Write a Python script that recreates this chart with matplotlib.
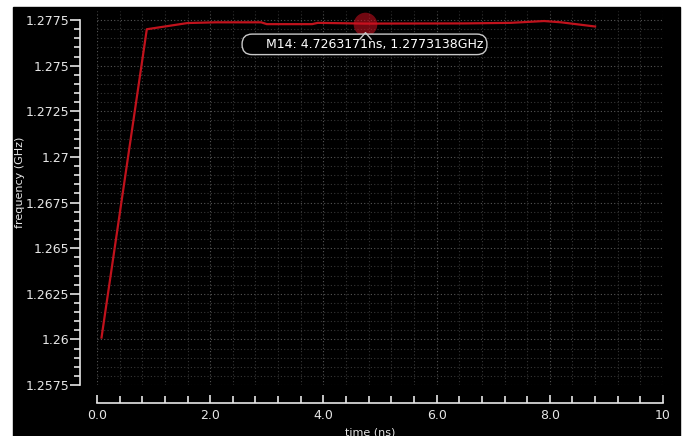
import matplotlib
matplotlib.use('Agg')
import matplotlib.pyplot as plt
from matplotlib.patches import Rectangle
from matplotlib.path import Path
from matplotlib.ticker import FixedLocator
import numpy as np

# frequency waveform
time_ns = [0.08, 0.88, 1.6, 2.1, 2.9, 3.0, 3.8, 3.9, 4.73, 6.5, 7.3, 7.9, 8.2, 8.8]
freq_ghz = [1.2601, 1.2770, 1.27734, 1.27738, 1.27738, 1.27728, 1.27728,
            1.27735, 1.27731, 1.27732, 1.27735, 1.27745, 1.27738, 1.27715]

marker_t = 4.7263171
marker_f = 1.2773138
marker_label = 'M14: 4.7263171ns, 1.2773138GHz'

x_ticks = [0, 2, 4, 6, 8, 10]
x_labels = ['0.0', '2.0', '4.0', '6.0', '8.0', '10']
y_ticks = [1.2575, 1.26, 1.2625, 1.265, 1.2675, 1.27, 1.2725, 1.275, 1.2775]
y_labels = ['1.2575', '1.26', '1.2625', '1.265', '1.2675', '1.27', '1.2725', '1.275', '1.2775']

txt = '#e6e6e6'

fig = plt.figure(figsize=(6.85, 4.36), dpi=100, facecolor='white')
# black window behind the plot
fig.patches.append(Rectangle((13 / 685, 0), 667 / 685, 429 / 436,
                             transform=fig.transFigure, color='black', zorder=-10))

ax = fig.add_axes([97 / 685, 51 / 436, 566 / 685, 374 / 436])
ax.set_facecolor('black')

ax.plot(time_ns, freq_ghz, color='#c0121c', lw=1.6, zorder=3)

ax.set_xlim(0, 10)
ax.set_ylim(1.2575, 1.278)

ax.xaxis.set_major_locator(FixedLocator(x_ticks))
ax.set_xticklabels(x_labels)
ax.xaxis.set_minor_locator(FixedLocator(np.arange(0, 10.01, 0.4)))
ax.yaxis.set_major_locator(FixedLocator(y_ticks))
ax.set_yticklabels(y_labels)
ax.yaxis.set_minor_locator(FixedLocator(np.arange(1.2575, 1.27751, 0.0005)))

ax.grid(True, which='major', color='#555555', ls=(0, (1, 2)), lw=0.8)
ax.grid(True, which='minor', color='#363636', ls=(0, (1, 2)), lw=0.8)
ax.set_axisbelow(True)

for s in ['top', 'right']:
    ax.spines[s].set_visible(False)
ax.spines['left'].set_position(('outward', 12))
ax.spines['left'].set_bounds(1.2575, 1.2775)
ax.spines['bottom'].set_position(('outward', 13))
ax.spines['bottom'].set_bounds(0, 10)
for s in ['left', 'bottom']:
    ax.spines[s].set_color(txt)
    ax.spines[s].set_linewidth(1.2)

ax.tick_params(axis='y', which='major', direction='out', length=7, width=1.2,
               color=txt, labelcolor=txt, labelsize=9, pad=1)
ax.tick_params(axis='y', which='minor', direction='out', length=4, width=1.2, color=txt)
ax.tick_params(axis='x', which='major', direction='in', length=6, width=1.2,
               color=txt, labelcolor=txt, labelsize=9, pad=4)
ax.tick_params(axis='x', which='minor', direction='in', length=5, width=1.2, color=txt)

# marker M14
ax.plot([marker_t], [marker_f], 'o', ms=17, color='#d01020', alpha=0.55, mec='none', zorder=4)
caret = Path([(-6, -15), (0, -8), (6, -15)], [Path.MOVETO, Path.LINETO, Path.LINETO])
ax.plot([marker_t], [marker_f], marker=caret, ms=22, mfc='none', mec='#c8c8c8', mew=1,
        ls='none', zorder=6)
ax.annotate('     ' + marker_label, xy=(marker_t, marker_f), xytext=(0, -15),
            textcoords='offset points', ha='center', va='center', color='white', fontsize=9,
            bbox=dict(boxstyle='round,pad=0.3,rounding_size=0.8', fc='black', ec='#c8c8c8', lw=1),
            zorder=5)

fig.text(20 / 685, 1 - 182 / 436, 'frequency (GHz)', rotation=90, color=txt,
         fontsize=8, ha='center', va='center')
fig.text(370 / 685, 4 / 436, 'time (ns)', color=txt, fontsize=8, ha='center', va='center')

fig.savefig('out.png', dpi=100, facecolor='white')
